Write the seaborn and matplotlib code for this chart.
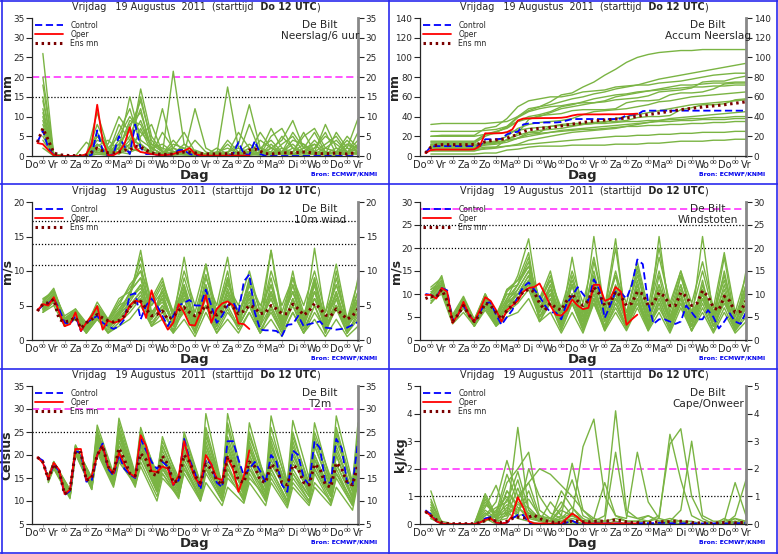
import numpy as np
import pandas as pd
import matplotlib
matplotlib.use('Agg')
import matplotlib.pyplot as plt
import seaborn as sns
from matplotlib.lines import Line2D

sns.set_style('ticks')
plt.rcParams['font.family'] = ['DejaVu Sans']

# tijd-as (uren na Do 12 UTC)
hours = np.arange(6, 361, 6)           # control + ens mean, 6-uurlijks
oper_hours = hours[:40]                # oper loopt tot +240 uur
member_hours = np.arange(12, 361, 12)  # leden, 12-uurlijks
t2m_member_hours = np.sort(np.r_[np.arange(18, 361, 24), np.arange(24, 361, 24)])  # min/max

day_labels = ['Do', 'Vr', 'Za', 'Zo', 'Ma', 'Di', 'Wo', 'Do', 'Vr', 'Za', 'Zo', 'Ma', 'Di', 'Wo', 'Do', 'Vr']

#1. Neerslag/6 uur
neerslag_control = [3.5, 6.5, 2.0, 0.2, 0, 0, 0, 0, 0, 0,
                    0.3, 6.5, 1.5, 0, 0.5, 5.0, 2.5, 0.5, 8.0, 2.0,
                    0.5, 0.5, 0.3, 0.2, 0.3, 0.5, 1.5, 1.5, 0.5, 0.2,
                    0, 0, 0, 0, 0, 0, 0.5, 3.5, 0.5, 0.3,
                    3.8, 0.5, 0, 0, 0, 0, 0, 0, 0, 0,
                    0, 0, 0, 0, 0, 0, 0, 0, 0, 0]
neerslag_oper = [3.3, 3.0, 1.5, 0.2, 0, 0, 0, 0, 0, 0.5,
                 3.0, 13.0, 4.0, 0.2, 0.2, 1.0, 3.0, 7.3, 2.0, 1.0,
                 0.8, 0.5, 0.3, 0.2, 0.3, 0.5, 1.0, 1.3, 2.0, 0.5,
                 0.2, 0.1, 0.1, 0.1, 0.1, 0.1, 0.1, 0.1, 0.1, 0.1]
neerslag_mean = [3.5, 7.0, 4.0, 0.8, 0.3, 0.2, 0.1, 0.1, 0.1, 0.2,
                 1.0, 2.0, 1.3, 0.8, 0.8, 1.0, 1.5, 1.5, 2.5, 2.3,
                 1.5, 0.8, 0.5, 0.4, 0.4, 0.5, 0.8, 1.0, 1.0, 0.8,
                 0.6, 0.5, 0.5, 0.5, 0.5, 0.6, 0.6, 0.7, 0.8, 1.5,
                 1.8, 1.2, 0.6, 0.5, 0.6, 0.8, 0.8, 0.8, 0.9, 1.0,
                 0.9, 0.7, 0.6, 0.6, 0.6, 0.8, 0.6, 0.5, 0.7, 0.8]
neerslag_leden = [
    [26, 0.3, 0, 0, 0, 2, 0.5, 1, 3, 15, 3, 1, 0.5, 1, 0.5, 0.2, 0.3, 0.5, 1, 0.5, 0.3, 2, 4, 9, 2, 0.5, 1, 0.5, 3, 1],
    [18, 0.5, 0, 0, 0.3, 11, 2, 0.5, 2, 17, 5, 1, 2, 0.5, 1, 0.5, 0.3, 17.5, 2, 1, 0.5, 0.3, 0.5, 1, 5, 7, 2, 1, 0.5, 2],
    [15, 0.2, 0, 0, 0, 4, 3, 10, 6, 2, 1, 12, 1, 0.5, 0.3, 0.2, 0.5, 1, 3, 13, 2, 0.5, 1, 3, 0.5, 1, 8, 2, 1, 0.5],
    [12, 0.3, 0, 0, 0, 6, 1, 2, 15, 4, 2, 0.5, 21.5, 3, 1, 0.5, 0.2, 0.5, 0.5, 1, 6, 2, 1, 0.5, 1, 3, 0.5, 6, 2, 9.5],
    [10, 0.2, 0, 0, 0, 1, 0.5, 6, 12, 3, 1, 0.5, 0.3, 0.5, 12, 2, 0.5, 1, 2, 0.5, 0.3, 5, 7, 2, 1, 0.5, 0.3, 1, 5, 2],
    [8, 0.1, 0, 0, 0, 3, 0.5, 1, 4, 9, 2, 0.5, 4, 1, 0.5, 0.3, 0.2, 4, 1, 0.5, 2, 1, 0.5, 0.3, 1, 2, 5, 3, 1, 4],
    [6, 0.2, 0, 0, 0, 0.5, 0.3, 2, 8, 11, 2, 3, 1, 0.5, 1.5, 0.5, 0.3, 0.2, 0.3, 0.5, 1, 7, 2, 1, 6, 1, 0.5, 2, 0.5, 1],
    [5, 0.1, 0, 0, 0, 2, 1, 0.5, 3, 5, 8, 1, 0.5, 0.3, 0.2, 0.3, 2, 0.5, 0.3, 8, 1, 0.5, 3, 5, 1, 0.5, 2, 4, 1, 0.5],
    [4, 0, 0, 0, 0, 5, 2, 1, 0.5, 7, 1, 0.5, 2, 6, 1, 0.3, 0.2, 0.3, 0.5, 0.2, 0.5, 2, 1, 4, 3, 1, 0.5, 1, 0.5, 6],
    [3, 0.1, 0, 0, 3.5, 1, 0.3, 4, 2, 1, 0.5, 0.3, 0.2, 0.5, 0.3, 0.2, 0.1, 0.2, 0.3, 0.5, 0.3, 0.5, 2, 0.5, 1, 4, 1, 0.5, 2, 1],
    [14, 0.5, 0, 0, 0, 8, 2, 5, 10, 6, 3, 2, 1, 2, 0.5, 0.3, 1, 2, 0.5, 1, 2, 4, 1, 0.5, 2, 6, 1, 0.5, 3, 2],
    [9, 0.2, 0, 0, 0.2, 3, 1, 3, 7, 14, 4, 1, 0.5, 3, 1, 0.5, 0.2, 0.5, 6, 2, 0.5, 1, 5, 2, 0.5, 1, 3, 5, 1, 0.5],
    [7, 0.3, 0, 0, 0, 1.5, 0.5, 8, 4, 3, 0.5, 6, 2, 1, 0.3, 0.5, 1, 0.3, 1, 3, 1, 0.5, 1, 6, 2, 3, 0.5, 1, 4, 1],
    [20, 0.4, 0, 0, 0, 5, 1.5, 2, 9, 8, 2, 0.5, 1, 0.5, 4, 1, 0.3, 0.5, 0.3, 0.5, 4, 2, 0.5, 1, 3, 0.5, 2, 1, 0.5, 3],
    [11, 0.1, 0, 0, 0, 2.5, 4, 1.5, 5, 12, 1, 0.3, 3, 2, 0.5, 0.2, 0.3, 3, 0.5, 2, 0.3, 3, 0.5, 2, 1, 2, 6, 0.5, 1, 2.5],
    [2, 0, 0, 0, 0, 0.5, 0.2, 3, 1, 2, 0.5, 0.2, 0.5, 0.3, 0.2, 0.1, 0.2, 0.3, 0.2, 0.3, 0.5, 0.3, 1, 0.5, 0.2, 0.5, 0.3, 0.2, 0.5, 0.5],
]

#2. Accum Neerslag
accum_control = [3, 9.5, 10, 10, 10, 10, 10, 10, 10, 10,
                 10, 17, 17, 17, 17.5, 22, 24, 24.5, 32, 33,
                 33.5, 33.5, 34, 34, 34, 34.5, 36, 37.5, 37.5, 37.5,
                 37.5, 37.5, 37.5, 37.5, 37.5, 37.5, 38, 41.5, 42, 42,
                 45.5, 46, 46, 46, 46, 46, 46, 46, 46, 46,
                 46, 46, 46, 46, 46, 46, 46, 46, 46, 46]
accum_oper = [3, 6, 6.5, 6.5, 6.5, 6.5, 6.5, 6.5, 6.5, 6.8,
              10, 23, 23, 23, 23.2, 24.2, 27, 36, 38, 38.2,
              38.3, 38.4, 38.5, 38.5, 38.6, 38.8, 39.5, 41, 42, 42.2,
              42.2, 42.2, 42.2, 42.3, 42.3, 42.3, 42.4, 42.5, 42.6, 43]
accum_mean = [3, 9, 11, 11.5, 11.5, 11.5, 11.5, 11.5, 11.5, 11.8,
              12.5, 14.5, 15.5, 16.3, 17, 18, 20, 22, 24.5, 26.5,
              27.5, 28, 28.5, 29, 29.8, 30.5, 31.5, 32.3, 33, 34,
              34.8, 35.5, 36, 36.5, 37, 37.5, 38, 38.7, 39.3, 40.2,
              41.3, 42, 42.8, 43.6, 44.5, 45.3, 46.2, 47, 47.7, 48.3,
              49, 49.7, 50.3, 50.8, 51.4, 52, 52.8, 53.5, 54.2, 55]
accum_leden = [
    [12, 13, 13, 13, 13, 20, 24, 30, 40, 46, 50, 55, 62, 64, 70, 75, 82, 88, 95, 100, 103, 105, 106, 107, 107, 108, 108, 108, 108, 108],
    [32, 33, 33, 33, 33, 33, 34, 35, 40, 48, 50, 52, 55, 58, 60, 63, 65, 68, 70, 72, 75, 78, 80, 82, 84, 86, 88, 90, 92, 94],
    [20, 21, 21, 21, 21, 28, 30, 38, 50, 56, 58, 60, 60, 62, 65, 66, 67, 70, 71, 72, 72, 74, 75, 76, 78, 80, 82, 83, 84, 84],
    [15, 15, 15, 15, 15, 22, 25, 28, 35, 40, 42, 45, 50, 52, 55, 58, 60, 62, 63, 65, 66, 68, 70, 72, 72, 73, 74, 74, 75, 75],
    [10, 10, 10, 10, 10, 14, 15, 20, 28, 32, 34, 35, 36, 38, 42, 45, 46, 47, 48, 50, 52, 55, 56, 58, 60, 61, 62, 63, 64, 65],
    [8, 8, 8, 8, 8, 11, 12, 14, 18, 24, 26, 27, 28, 30, 32, 33, 34, 38, 40, 42, 44, 46, 48, 50, 52, 53, 54, 55, 56, 57],
    [6, 6, 6, 6, 6, 7, 8, 10, 12, 16, 18, 20, 22, 24, 25, 26, 27, 28, 30, 32, 34, 36, 38, 39, 40, 41, 42, 43, 44, 45],
    [12, 12, 12, 12, 12, 13, 14, 16, 18, 20, 22, 24, 26, 27, 28, 29, 30, 31, 32, 33, 34, 35, 35, 36, 36, 37, 37, 37, 38, 38],
    [5, 5, 5, 5, 5, 8, 9, 10, 11, 12, 13, 14, 15, 16, 17, 18, 19, 20, 20, 21, 21, 22, 22, 23, 23, 24, 24, 24, 25, 25],
    [25, 25, 25, 25, 25, 26, 27, 30, 35, 38, 40, 44, 48, 50, 52, 54, 56, 60, 62, 64, 66, 67, 68, 69, 70, 70, 71, 71, 72, 72],
    [14, 14, 14, 14, 14, 22, 24, 29, 39, 45, 48, 50, 51, 53, 54, 54, 55, 57, 58, 59, 61, 65, 66, 67, 69, 75, 76, 76, 79, 81],
    [9, 9, 9, 9, 9, 12, 13, 16, 23, 37, 41, 42, 43, 46, 47, 47, 47, 48, 54, 56, 56, 57, 62, 64, 64, 65, 68, 73, 74, 74],
    [7, 7, 7, 7, 7, 9, 9, 17, 21, 24, 24, 30, 32, 33, 33, 34, 35, 35, 36, 39, 40, 40, 41, 47, 49, 52, 52, 53, 57, 58],
    [20, 20, 20, 20, 20, 22, 23, 24, 26, 28, 29, 30, 31, 31, 32, 33, 33, 34, 35, 35, 36, 36, 37, 37, 38, 38, 39, 39, 40, 40],
    [11, 11, 11, 11, 11, 13, 14, 16, 18, 22, 23, 24, 25, 26, 27, 27, 28, 29, 30, 30, 31, 31, 32, 32, 33, 33, 34, 34, 35, 35],
    [2, 2, 2, 2, 2, 3, 3, 6, 7, 9, 10, 10, 10, 11, 11, 11, 11, 12, 12, 12, 13, 13, 14, 15, 15, 15, 16, 16, 17, 17],
]

#3. 10m wind
wind_control = [4.3, 5.0, 5.3, 6.0, 4.5, 2.5, 2.3, 3.5, 1.3, 2.5,
                3.0, 3.5, 2.5, 2.0, 1.6, 2.0, 3.0, 6.5, 6.8, 3.0,
                5.0, 6.0, 5.0, 3.5, 2.0, 3.5, 5.0, 5.4, 5.8, 5.0,
                5.0, 7.3, 5.0, 2.5, 3.5, 5.0, 5.5, 4.0, 8.5, 9.5,
                4.0, 1.5, 1.4, 1.4, 1.3, 0.6, 2.2, 2.3, 3.5, 2.0,
                2.3, 2.5, 2.7, 1.8, 1.7, 1.5, 1.6, 1.8, 2.2, 2.6]
wind_oper = [4.3, 5.2, 5.0, 6.2, 4.0, 2.0, 2.3, 4.0, 1.3, 2.5,
             3.5, 4.9, 1.5, 2.8, 2.5, 2.7, 3.3, 5.0, 5.7, 5.5,
             3.2, 7.2, 4.5, 3.0, 1.5, 2.5, 5.2, 4.0, 2.2, 2.1,
             4.0, 6.5, 2.5, 4.5, 5.3, 5.6, 5.0, 2.4, 2.3, 1.6]
wind_mean = [4.2, 5.2, 5.4, 5.9, 3.0, 2.6, 2.8, 3.3, 1.7, 2.5,
             3.0, 3.7, 3.2, 2.8, 2.6, 2.8, 3.5, 4.8, 5.5, 5.6,
             4.5, 3.5, 3.7, 4.2, 3.0, 3.4, 4.3, 4.7, 4.0, 3.5,
             4.0, 5.0, 4.0, 3.6, 4.2, 5.3, 4.8, 3.8, 4.2, 5.0,
             4.7, 3.8, 4.0, 5.0, 4.5, 3.8, 3.8, 5.2, 4.5, 3.6,
             4.2, 5.3, 4.6, 3.6, 3.5, 4.5, 3.8, 3.0, 3.5, 4.5]
wind_leden = [
    [5.5, 7.5, 3, 4.5, 2, 5, 2.5, 4, 6, 13, 4, 6, 2, 7, 2, 11, 3, 9, 3, 6, 2, 13, 3, 8, 2, 13.3, 3, 7, 2, 5],
    [4.5, 6, 2.5, 3, 1.5, 4, 2, 3, 5, 7, 3, 5, 3, 12, 3, 8, 2, 6, 4, 8, 3, 6, 2, 9, 3, 7, 2, 10, 2, 4],
    [5, 6.5, 2, 3.5, 1, 3, 1.5, 3.5, 7, 9, 2, 4, 1.5, 6, 1, 7, 4, 10, 2, 5, 1.5, 4, 1, 6, 2, 8, 1, 6, 1, 9],
    [4, 5.5, 2.5, 4, 2, 5.5, 3, 5, 6, 8, 5, 7, 4, 8, 3, 6, 3, 7, 3, 9, 4, 7, 3, 7, 3, 6, 4, 8, 3, 6],
    [6, 7, 3, 3, 1.5, 3.5, 1, 2.5, 4, 6, 2, 5, 1, 5, 2, 9, 5, 12, 2, 5, 1, 5, 1.5, 5, 1, 5, 1, 5, 1, 3],
    [4.5, 6.5, 2, 3.5, 1, 4, 2.5, 5, 8, 10, 6, 9, 3, 6, 2, 5, 2, 6, 3, 6, 2, 8, 2, 6, 2, 7, 3, 6, 2, 7],
    [5, 6, 3, 4, 2, 4.5, 2, 4, 5, 6, 4, 6, 2, 4, 1, 5, 1, 4, 2, 7, 3, 10, 5, 9, 4, 6, 3, 5, 1, 4],
    [4, 5, 2, 3, 1, 3, 1, 2, 3, 5, 2, 3, 1, 3, 0.5, 4, 1, 3, 1, 4, 1, 3, 0.5, 4, 1, 3, 0.5, 3, 0.5, 2],
    [5.5, 7, 3.5, 4.5, 2.5, 5, 3, 6, 7, 9, 5, 8, 4, 10, 5, 11, 4, 8, 5, 10, 4, 13, 4, 9, 5, 10, 4, 11, 3, 8.5],
    [4.8, 6, 2.8, 3.8, 1.8, 4.5, 2.2, 3.5, 5.5, 8, 3, 6.5, 2.5, 7.5, 2.5, 7, 2.5, 6.5, 2.5, 6.5, 2.5, 6, 2, 5, 2, 6, 2, 7, 2, 5],
    [5.2, 6.8, 2.7, 4.2, 1.7, 4.2, 2.7, 4.5, 6.5, 11, 3.5, 7, 2, 5, 1.5, 6, 2, 5, 2, 5, 2, 5, 1.5, 6, 1.5, 5, 1.5, 5, 1.5, 6],
    [4.2, 5.8, 2.2, 3.2, 1.2, 3.8, 1.8, 3.8, 6, 7.5, 4, 5.5, 2.5, 9, 4, 9.5, 3, 7, 3, 5.5, 2, 7, 2.5, 10, 2.5, 9, 2, 5, 2, 4.5],
    [5.8, 7.2, 3.2, 4.2, 2.2, 4.8, 2.8, 5.5, 7.5, 10, 3, 7.5, 3.5, 8, 2, 7.5, 3.5, 9, 2, 8, 3, 9, 2, 8, 3.5, 9, 3, 8, 3, 7],
    [4.6, 6.2, 2.4, 3.6, 1.4, 3.2, 1.2, 3, 4.5, 6.5, 2.5, 4.5, 1.2, 4.5, 1.2, 5, 1.5, 4.5, 1.5, 4, 1, 4.5, 1, 4, 1, 4, 1.5, 4.5, 1, 3.5],
    [5.3, 6.6, 3, 4, 1.9, 4.6, 2.4, 4.2, 6.8, 12, 5.5, 8.5, 4, 7, 3, 6.5, 2.5, 7.5, 3.5, 8.5, 5, 8, 3, 7, 2, 8.5, 2.5, 9, 2.5, 6],
    [4.4, 5.6, 2.6, 3.4, 1.6, 4.2, 2, 3.2, 5, 7, 3.5, 6, 2.8, 6.5, 3, 8, 3, 8.5, 4, 7, 3, 6.5, 3, 7, 3, 7, 3, 6.5, 2.5, 5.5],
]

#4. Windstoten
stoten_control = [10.0, 9.8, 9.3, 11.3, 10.8, 4.2, 5.5, 7.5, 5.5, 4.0,
                  6.0, 8.0, 8.2, 5.5, 3.3, 5.0, 6.5, 9.5, 11.5, 12.5,
                  11.0, 9.5, 7.5, 6.0, 6.0, 4.5, 8.0, 9.5, 11.5, 10.0,
                  8.5, 13.2, 11.0, 4.8, 7.5, 10.5, 10.2, 9.0, 12.0, 17.5,
                  16.5, 8.0, 3.5, 4.5, 4.5, 4.0, 3.5, 4.0, 7.5, 6.0,
                  4.5, 4.5, 6.5, 5.0, 2.5, 4.0, 5.8, 4.0, 3.5, 6.0]
stoten_oper = [9.8, 9.8, 9.0, 11.3, 10.5, 3.7, 5.5, 8.3, 5.5, 4.0,
               6.5, 9.3, 8.5, 6.5, 4.0, 6.5, 7.5, 8.5, 10.5, 11.3,
               11.5, 12.3, 10.0, 7.5, 5.5, 5.3, 6.5, 8.8, 7.5, 6.7,
               7.0, 12.0, 12.0, 8.5, 9.0, 11.5, 10.5, 3.3, 4.5, 5.5]
stoten_mean = [9.0, 9.5, 9.3, 11.0, 8.5, 4.0, 5.5, 7.5, 5.5, 4.0,
               5.5, 8.0, 7.5, 6.0, 4.5, 6.5, 7.5, 9.0, 10.5, 11.0,
               10.5, 8.0, 6.5, 8.0, 7.0, 6.5, 8.5, 10.0, 8.5, 7.5,
               8.5, 11.5, 10.0, 7.5, 8.0, 10.5, 9.5, 7.5, 8.0, 10.5,
               10.0, 7.5, 8.0, 10.3, 9.5, 7.5, 7.5, 10.3, 9.5, 7.5,
               8.0, 10.7, 9.5, 7.0, 6.5, 9.5, 8.5, 6.0, 6.2, 8.5]
stoten_leden = [
    [10, 13, 5, 9, 4, 10, 5, 9, 14, 22, 7, 12, 5, 12, 4, 22.5, 6, 14, 4, 13, 3, 22.5, 5, 12, 4, 22.5, 5, 18, 4, 10],
    [9, 11, 4, 7, 3.5, 8, 4, 7, 11, 15, 6, 10, 4, 18, 5, 12, 4, 9, 6, 15, 5, 10, 4, 14, 5, 11, 4, 15, 4, 8],
    [11, 12, 5, 8, 4, 9, 3.5, 8, 12, 18, 4, 9, 3, 10, 3, 13, 6, 20, 4, 9, 3, 7, 2.5, 10, 3, 13, 3, 10, 2, 15],
    [8, 11, 4, 8, 3.5, 10, 5, 10, 10, 13, 8, 14, 6, 12, 5, 10, 5, 11, 5, 16, 6, 12, 5, 11, 5, 10, 6, 13, 5, 10],
    [10, 14, 4.5, 7, 3, 7, 3, 6, 8, 11, 5, 8, 2, 8, 3, 17, 7, 22, 3, 8, 2.5, 9, 3, 8, 2, 9, 3, 9, 2, 5],
    [9.5, 12, 4, 8, 3, 9, 4.5, 11, 13, 16, 9, 15, 5, 10, 4, 9, 3, 10, 4, 10, 3, 14, 4, 10, 3, 12, 5, 11, 3, 12],
    [10.5, 11.5, 5, 7.5, 4, 8.5, 4, 8, 10, 12, 7, 10, 4, 8, 2, 9, 2.5, 8, 3, 12, 5, 18, 8, 15, 6, 10, 5, 9, 2.5, 7],
    [8.5, 10, 3.5, 6, 3, 6.5, 3, 5, 6, 9, 4, 6, 1.5, 6, 1.5, 8, 2, 6, 2, 7, 2, 6, 1.5, 7, 2, 6, 1.5, 6, 1.5, 4],
    [11, 13, 5.5, 9.5, 4.5, 9.5, 5, 11, 12, 16, 9, 13, 7, 15, 8, 18, 7, 14, 8, 17, 7, 20, 7, 15, 8, 17, 7, 19, 6, 14],
    [9, 11, 4, 8, 4, 9, 4, 7.5, 9, 13, 6, 11, 4, 12, 4, 12, 4.5, 11, 4.5, 11, 4, 11, 4, 9, 4, 10, 4, 12, 4, 9],
    [10, 12.5, 4.5, 8.5, 4, 9.5, 4.5, 9, 12, 17, 6, 12, 4, 10, 3, 11, 4, 10, 4, 11, 4, 12, 4, 12, 4, 11, 4, 10, 3, 11],
    [9, 10.5, 4, 7, 3, 8, 3.5, 7, 10, 14, 7, 11, 5, 14, 6, 15, 5, 12, 5, 12, 4, 10, 4, 9, 3, 10, 3, 8, 3, 7],
    [11.5, 13.5, 5, 9, 4.5, 10, 5.5, 10.5, 13, 19, 5, 10, 3.5, 12, 2.5, 9, 2, 8, 2.5, 9, 2, 8, 2, 9, 2, 8, 2, 9, 2, 8],
    [8, 10.5, 3.8, 7, 3.2, 7.5, 3.2, 7, 9, 12, 5, 9, 3, 9, 3, 10, 3, 9, 3, 9, 3, 9, 3, 10, 3, 9, 3, 9, 3, 8],
    [10, 12, 4.8, 8, 3.8, 8.5, 3.8, 8.5, 11, 15, 8, 13, 6, 13, 6, 14, 6, 15, 6, 14, 6, 15, 6, 14, 6, 15, 6, 14, 5, 12],
    [9.3, 11.5, 4.2, 7.8, 3.5, 9, 4, 8, 10, 14, 4, 8, 2.5, 8, 2.5, 8, 2.5, 7, 2.5, 8, 2.5, 8, 2, 8, 2, 7, 2, 7, 2, 6],
]

#5. T2m
t2m_control = [19.5, 18.8, 14.7, 18.0, 16.5, 11.3, 12.2, 20.8, 20.5, 14.2,
               14.5, 20.0, 22.5, 17.0, 15.5, 20.0, 17.0, 15.8, 15.0, 23.5,
               21.0, 18.5, 17.0, 18.5, 17.5, 13.5, 14.5, 23.5, 19.0, 16.0,
               12.5, 19.0, 18.0, 14.0, 13.0, 23.0, 23.0, 19.0, 15.5, 17.0,
               18.5, 16.5, 14.0, 20.0, 18.5, 13.5, 12.0, 21.0, 20.0, 15.0,
               13.5, 23.0, 21.5, 14.0, 14.0, 23.5, 21.5, 14.0, 13.5, 23.0]
t2m_oper = [19.5, 18.3, 14.8, 18.3, 16.8, 11.5, 12.5, 21.3, 21.3, 14.5,
            15.5, 20.0, 22.0, 17.5, 16.0, 20.5, 18.0, 16.0, 15.2, 24.3,
            22.0, 16.5, 16.3, 17.5, 17.0, 13.5, 15.5, 23.0, 18.5, 15.0,
            13.5, 20.0, 18.0, 15.0, 14.5, 19.5, 17.0, 12.0, 15.5, 21.0]
t2m_mean = [19.5, 18.5, 14.8, 18.0, 16.5, 11.5, 12.5, 20.8, 20.5, 14.5,
            15.0, 20.0, 22.0, 17.5, 16.0, 21.5, 19.0, 16.0, 15.5, 20.3,
            19.0, 16.0, 15.5, 19.8, 18.0, 14.0, 14.5, 20.0, 18.5, 15.5,
            14.0, 18.0, 17.0, 14.5, 13.5, 19.5, 18.0, 14.5, 14.0, 18.5,
            17.5, 14.5, 14.0, 18.0, 17.0, 14.0, 13.5, 17.8, 17.0, 14.0,
            13.5, 18.0, 17.0, 13.5, 13.0, 18.3, 17.0, 14.0, 13.5, 18.0]
t2m_leden = [
    [15, 18.5, 12, 22, 15, 26.5, 16, 28, 16, 26, 15, 24, 14, 25, 14, 29, 13, 29, 14, 27, 14, 28.5, 14, 27.5, 15, 27, 14, 28.5, 14, 27],
    [14.5, 17.5, 11, 21, 13, 22, 14, 22, 15, 24, 14, 20, 13, 22, 12, 20, 12, 22, 13, 21, 13, 23, 12, 20, 12, 22, 13, 21, 12, 22],
    [15, 18, 11.5, 21.5, 14, 24, 15, 25, 15, 22, 13, 18, 12, 20, 13, 24, 14, 26, 12, 18, 11, 17, 10, 16, 11, 20, 12, 24, 13, 21],
    [14, 17, 10.5, 20.5, 12.5, 21, 13.5, 19, 14, 20, 12, 17, 11, 18, 10, 16, 10, 15, 11, 19, 12, 22, 13, 23, 12, 18, 11, 16, 10, 18],
    [15.5, 18.5, 12.5, 22, 15, 23, 15.5, 23, 15.5, 25, 16, 23, 15, 24, 14, 22, 13, 20, 14, 24, 15, 20, 13, 18, 14, 25, 15, 23, 14, 25],
    [14.8, 17.5, 11.2, 21, 13.5, 23.5, 14.5, 24, 14.5, 21, 12, 16, 11, 17, 11, 18, 11, 21, 12, 22, 10, 15, 9, 14, 9.5, 14, 10, 15, 9, 15],
    [14.5, 18, 11.8, 21.2, 14.2, 25, 15, 26, 15, 23, 13, 19, 13, 21, 12, 17, 12, 18, 10, 15, 11, 18, 12, 20, 13, 19, 12, 18, 11, 17],
    [14.2, 17.2, 10.8, 20.2, 12.5, 20.5, 13, 18.5, 13.5, 17.5, 10, 15, 11, 16, 10, 14, 9, 13, 9.5, 14, 9, 14, 8.5, 13, 9, 13, 9, 13, 8, 14],
    [15.2, 18.2, 12, 21.5, 14.5, 24.5, 15, 25.5, 15, 24, 14, 21, 13, 23, 13, 25, 12, 24, 13, 23, 13, 24, 14, 25, 13, 23, 14, 26, 13, 23],
    [14.6, 17.8, 11.5, 21, 13.8, 22.5, 14.2, 21, 14.8, 22, 12.5, 17.5, 12, 19, 11.5, 19, 11, 17, 11.5, 17, 12, 19, 11, 17, 11, 17, 11, 18, 10.5, 17],
    [15, 18, 12, 21.8, 14.8, 25.5, 15.5, 27, 15.5, 25, 14.5, 22, 13.5, 23, 13.5, 26, 13, 27, 13.5, 25, 13.5, 26, 13, 24, 14, 24, 13.5, 25, 13.5, 24],
    [14.7, 17.8, 11.3, 20.8, 13.2, 22.5, 14, 23, 14, 21, 13, 19, 12.5, 20, 12, 21, 11.5, 19, 12, 20, 12, 21, 11.5, 21, 12, 20, 11.5, 20, 11, 19],
    [14.3, 17.3, 11, 20.5, 13, 21.5, 13.5, 20, 13, 18.5, 11, 16, 10.5, 17, 10.5, 17, 10, 16, 10, 16, 10, 16, 9.5, 15, 10, 16, 9.5, 16, 9, 16],
    [15.3, 18.6, 12.3, 22.2, 14.8, 24, 15.2, 24.5, 15.2, 23.5, 14.5, 22, 14, 22, 13.5, 23, 13, 23, 13, 22, 13, 22, 12.5, 22, 13, 22, 12.5, 22, 12, 21],
    [14.9, 17.9, 11.7, 21.3, 14, 23, 14.8, 24.5, 14.6, 22.5, 13.5, 20, 12.5, 21, 12, 22, 11.5, 22, 11, 20, 11.5, 20, 11, 19, 11.5, 19, 11, 20, 10.5, 20],
    [14.4, 17.4, 11, 20.6, 13, 21.5, 13.8, 20.5, 13.8, 19.5, 12, 17, 11.5, 18, 11, 18, 10.5, 17, 10.5, 17, 10.5, 17, 10, 16, 10, 17, 10, 17, 9.5, 16],
]

#6. Cape/Onweer
cape_control = [0.5, 0.35, 0.1, 0.02, 0, 0, 0, 0, 0, 0,
                0.05, 0.2, 0.25, 0.05, 0.02, 0.05, 0.2, 0.33, 0.32, 0.05,
                0, 0, 0, 0, 0.01, 0.02, 0.05, 0.12, 0.02, 0.02,
                0.02, 0.02, 0.02, 0.02, 0.02, 0.02, 0.02, 0.02, 0.02, 0.03,
                0.03, 0.03, 0.03, 0.04, 0.04, 0.03, 0.03, 0.03, 0.02, 0.02,
                0.02, 0.02, 0.02, 0.02, 0.02, 0.02, 0.02, 0.03, 0.03, 0.04]
cape_oper = [0.45, 0.3, 0.1, 0.02, 0, 0, 0, 0, 0, 0,
             0.05, 0.15, 0.2, 0.05, 0.02, 0.05, 0.3, 0.97, 0.6, 0.1,
             0.02, 0.02, 0.02, 0.02, 0.02, 0.02, 0.2, 0.38, 0.25, 0.05,
             0.02, 0.02, 0.02, 0.02, 0.02, 0.02, 0.02, 0.02, 0.02, 0.02]
cape_mean = [0.45, 0.3, 0.15, 0.05, 0.02, 0.01, 0.01, 0.01, 0.01, 0.01,
             0.05, 0.12, 0.2, 0.1, 0.05, 0.1, 0.2, 0.25, 0.22, 0.25,
             0.32, 0.2, 0.12, 0.08, 0.05, 0.05, 0.08, 0.1, 0.1, 0.08,
             0.08, 0.1, 0.1, 0.1, 0.12, 0.15, 0.12, 0.08, 0.05, 0.05,
             0.05, 0.05, 0.06, 0.08, 0.08, 0.08, 0.1, 0.1, 0.08, 0.05,
             0.04, 0.04, 0.03, 0.03, 0.04, 0.05, 0.05, 0.04, 0.05, 0.06]
cape_leden = [
    [1.2, 0, 0, 0, 0, 0.6, 1.4, 0.3, 3.5, 0.5, 0.2, 0.1, 0.3, 2.2, 0.5, 0.1, 0.3, 4.1, 0.5, 0.2, 0.3, 0.1, 0.2, 0.1, 0, 0, 0, 0.1, 0.2, 0.1],
    [0.8, 0, 0, 0, 0, 1.1, 0.3, 1.5, 2.0, 2.6, 0.5, 0.2, 0.1, 0.3, 2.8, 3.8, 1.0, 0.3, 0.2, 2.6, 0.8, 0.2, 3.25, 1.6, 0.3, 0.1, 0, 0.2, 0, 0],
    [0.6, 0, 0, 0, 0, 0.3, 0.8, 2.3, 1.0, 1.5, 2.0, 1.8, 1.4, 1.0, 0.5, 0.2, 0.1, 2.6, 0.3, 0.2, 0.1, 0.3, 2.9, 3.45, 1.0, 0.2, 0, 0, 0.1, 0],
    [0.5, 0, 0, 0, 0, 0.8, 0.2, 1.2, 0.6, 0.3, 0.1, 0.1, 0.6, 1.6, 0.3, 0.1, 0.1, 0.2, 0.1, 0.1, 0.3, 0.1, 0.1, 0.5, 3.0, 0.3, 0.1, 0.1, 1.5, 0.3],
    [0.4, 0, 0, 0, 0, 0.4, 0.1, 0.5, 1.6, 0.2, 0.3, 0.2, 0.1, 0.2, 0.1, 0.2, 1.5, 0.3, 0.1, 0.1, 0.1, 0.2, 0.1, 0.1, 0.1, 0, 0, 0, 0.3, 1.6],
    [0.3, 0, 0, 0, 0, 0.2, 0.1, 0.9, 0.4, 1.2, 0.2, 0.1, 0.2, 0.4, 0.1, 0, 0, 0.1, 0, 0, 0, 0, 0.1, 0, 0, 0, 0, 0, 0.1, 0],
    [0.2, 0, 0, 0, 0, 0.1, 0.5, 1.0, 0.3, 0.4, 0.1, 0.8, 0.3, 0.1, 0, 0, 0.1, 0, 0, 0, 0, 0, 0, 0, 0, 0, 0, 0, 0, 0.1],
    [0.5, 0, 0, 0, 0, 0.2, 0, 0.4, 0.2, 0.1, 0, 0, 0, 0.1, 0, 0, 0, 0, 0, 0, 0, 0, 0, 0, 0, 0, 0, 0, 0, 0],
    [0.3, 0, 0, 0, 0, 0.5, 0.2, 0.3, 1.3, 0.3, 0.1, 0.2, 0.8, 0.3, 0.1, 0, 0, 0, 0, 0, 0, 0, 0, 0, 0, 0, 0, 0, 0, 0],
    [0.7, 0.1, 0, 0, 0, 0.1, 0.3, 0.7, 0.5, 0.9, 0.3, 0.1, 0, 0, 0, 0, 0, 0, 0, 0, 0, 0, 0, 0, 0, 0, 0, 0, 0, 0],
    [0.9, 0, 0, 0, 0, 0.7, 0.4, 1.8, 0.8, 0.4, 0.2, 0.1, 0.5, 0.3, 0.1, 0, 0.1, 0, 0, 0, 0, 0, 0, 0, 0, 0, 0, 0, 0.2, 0],
    [0.4, 0, 0, 0, 0, 1.0, 0.2, 0.6, 0.3, 2.0, 1.0, 0.4, 0.2, 0.1, 0, 0, 0, 0, 0, 0, 0, 0, 0, 0, 0, 0, 0, 0, 0, 0],
    [0.3, 0, 0, 0, 0, 0.3, 0.6, 0.8, 1.9, 0.5, 0.1, 0.1, 1.2, 0.6, 0.2, 0, 0, 0, 0, 0, 0, 0, 0, 0, 0, 0, 0, 0, 0, 0],
    [0.6, 0, 0, 0, 0, 0.4, 0.1, 0.2, 0.9, 1.5, 0.3, 0.1, 0.1, 0.1, 0, 0.1, 0, 0, 0, 0, 0, 0, 0, 0, 0, 0, 0, 0, 0, 0],
    [0.2, 0, 0, 0, 0, 0.2, 0.3, 0.4, 0.6, 0.2, 0.1, 0, 0.2, 0.6, 0.1, 0, 0, 0, 0, 0, 0, 0, 0, 0, 0, 0, 0, 0, 0, 0],
    [0.5, 0, 0, 0, 0, 0.9, 0.2, 1.2, 0.7, 0.6, 0.2, 0.1, 0, 0, 0, 0, 0, 0, 0, 0, 0, 0, 0, 0, 0, 0, 0, 0, 0, 0],
]

# panel-opties: (kolom, rij, naam, eenheid, ylabel-x px, leden, leden-uren, control, oper, mean,
#                ylim, stap, magenta, zwart-gestippeld)
panels = [
    (0, 0, 'Neerslag/6 uur', 'mm', 9.5, neerslag_leden, member_hours, neerslag_control, neerslag_oper, neerslag_mean, (0, 35), 5, [20], [15]),
    (1, 0, 'Accum Neerslag', 'mm', 8.5, accum_leden, member_hours, accum_control, accum_oper, accum_mean, (0, 140), 20, [], []),
    (0, 1, '10m wind', 'm/s', 9.5, wind_leden, member_hours, wind_control, wind_oper, wind_mean, (0, 20), 5, [], [10.8, 13.9, 17.2]),
    (1, 1, 'Windstoten', 'm/s', 9.5, stoten_leden, member_hours, stoten_control, stoten_oper, stoten_mean, (0, 30), 5, [28.5], [20, 25]),
    (0, 2, 'T2m', 'Celsius', 9, t2m_leden, t2m_member_hours, t2m_control, t2m_oper, t2m_mean, (5, 35), 5, [30], [25]),
    (1, 2, 'Cape/Onweer', 'kJ/kg', 14, cape_leden, member_hours, cape_control, cape_oper, cape_mean, (0, 5), 1, [2], [1]),
]

W, H = 778, 554
col_x = [0, 388]
row_y = [0, 184, 368]
green = '#7ab443'

fig = plt.figure(figsize=(W / 100, H / 100), dpi=100)

for col, row, naam, eenheid, ylab_x, leden, mh, control, oper, mean, ylim, stap, magenta, zwart in panels:
    x0, y0 = col_x[col], row_y[row]
    ax = fig.add_axes([(x0 + 32) / W, 1 - (y0 + 156) / H, 326 / W, 138 / H])

    df = pd.concat([pd.DataFrame({'uur': mh, 'waarde': v, 'lid': i}) for i, v in enumerate(leden)])
    sns.lineplot(data=df, x='uur', y='waarde', units='lid', estimator=None, color=green,
                 lw=1.0, ax=ax, legend=False)

    for y in magenta:
        ax.axhline(y, color='#ff44ff', lw=1.3, ls=(0, (4, 2)), zorder=1)
    for y in zwart:
        ax.axhline(y, color='black', lw=0.9, ls=(0, (1, 1.5)), zorder=1)

    sns.lineplot(x=hours, y=control, ax=ax, color='#0000ff', lw=1.3, linestyle=(0, (4, 2)), label='Control')
    sns.lineplot(x=oper_hours, y=oper, ax=ax, color='#ff0000', lw=1.3, label='Oper')
    sns.lineplot(x=hours, y=mean, ax=ax, color='#7a0000', lw=2.2, linestyle=(0, (0.8, 1.2)), label='Ens mn')

    ax.set_xlim(0, 360)
    ax.set_ylim(*ylim)
    ax.set_yticks(np.arange(ylim[0], ylim[1] + 0.01, stap))
    ax.set_xticks(np.arange(0, 361, 24))
    ax.set_xticklabels(day_labels)
    ax.set_xticks(np.arange(12, 360, 24), minor=True)
    ax.set_xticklabels(['00'] * 15, minor=True)
    ax.tick_params(axis='x', which='major', labelsize=7, length=0, pad=3)
    ax.tick_params(axis='x', which='minor', labelsize=4.5, length=2.5, color='#999999', pad=0.5)
    ax.tick_params(axis='y', labelsize=6.4, length=4, width=0.8, pad=1.5, right=True, labelright=True)

    ax.spines['top'].set_visible(False)
    ax.spines['right'].set_color('#888888')
    ax.spines['right'].set_linewidth(2)
    ax.spines['left'].set_linewidth(0.9)
    ax.spines['bottom'].set_linewidth(0.9)

    ax.set_ylabel(eenheid, fontsize=9, weight='bold')
    ax.yaxis.set_label_coords((ylab_x + 4.5 - 32) / 326, 0.5)
    ax.set_xlabel('Dag', fontsize=9.5, weight='bold', labelpad=-0.5)

    ax.legend(loc='upper left', fontsize=5.5, frameon=False, handlelength=3.6,
              labelspacing=0.0, handletextpad=1.0, borderaxespad=0.2, borderpad=0.2)

    ax.text(0.883, 0.985, 'De Bilt\n' + naam, transform=ax.transAxes, ha='center', va='top',
            multialignment='center', fontsize=7.6, linespacing=1.1)

    # titel met vet deel
    t1 = ax.text(0.123, 1.055, 'Vrijdag   19 Augustus  2011  (starttijd ', transform=ax.transAxes,
                 fontsize=6.9, va='baseline')
    t2 = ax.annotate(' Do 12 UTC', xy=(1, 0), xycoords=t1, va='bottom', fontsize=6.9, weight='bold')
    ax.annotate(')', xy=(1, 0), xycoords=t2, va='bottom', fontsize=6.9)

    fig.text((x0 + 311) / W, 1 - (y0 + 174) / H, 'Bron: ECMWF/KNMI', color='#0000ee',
             fontsize=4.4, weight='bold', va='center')

# panelranden
for x in [1.5, 389, 776.5]:
    fig.add_artist(Line2D([x / W, x / W], [0, 1], color='#2a2aee', lw=1.2))
for y in [1, 184, 369, 552.5]:
    fig.add_artist(Line2D([0, 1], [1 - y / H, 1 - y / H], color='#2a2aee', lw=1.2))

fig.savefig('out.png', dpi=100)
